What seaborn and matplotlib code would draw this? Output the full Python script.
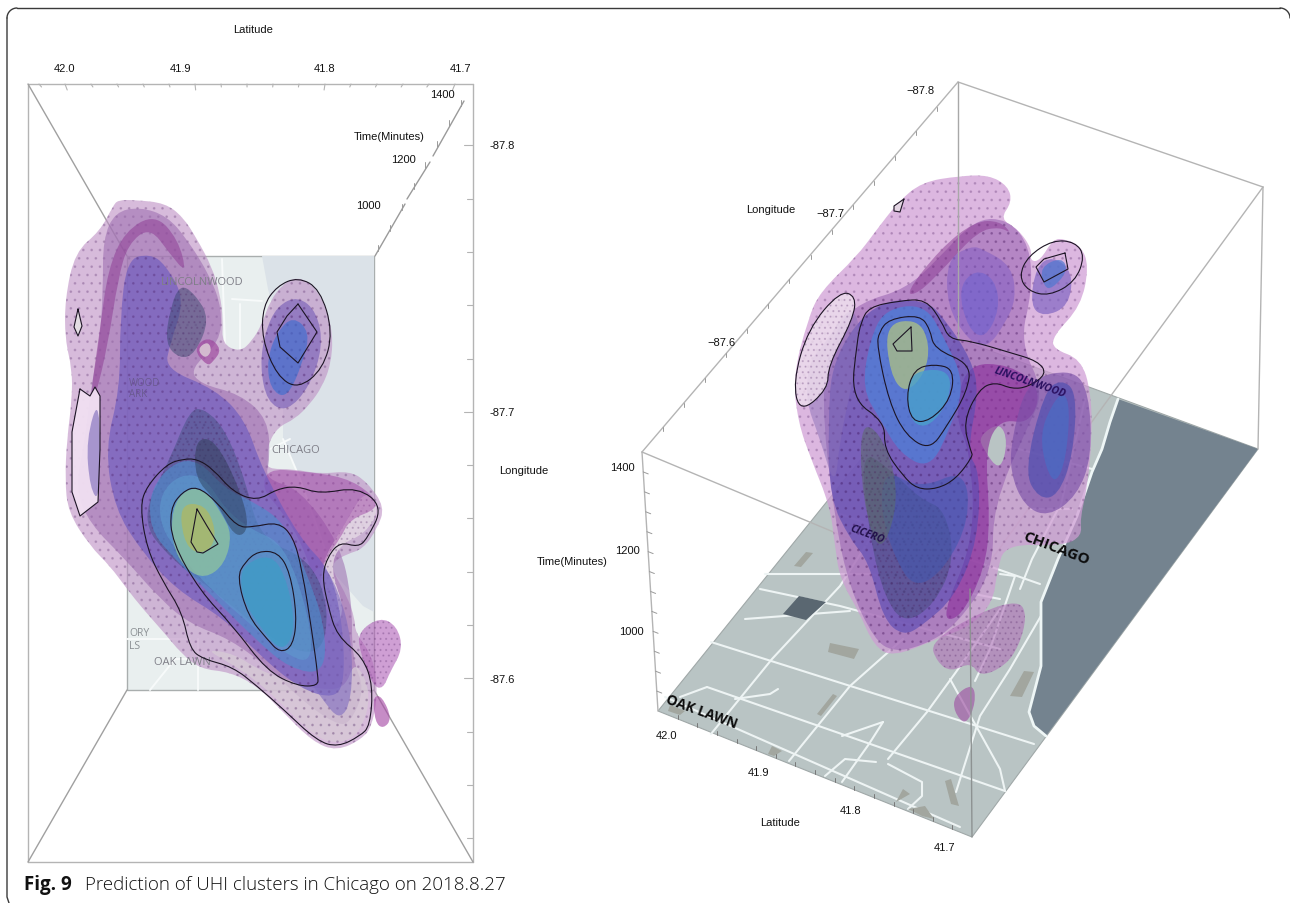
import matplotlib
matplotlib.use('Agg')
import matplotlib.pyplot as plt
import numpy as np
import seaborn as sns
from matplotlib.path import Path
from matplotlib.patches import PathPatch, Polygon

# --- подписи ---
left_labels = [('Latitude', 253, 30), ('42.0', 64, 69), ('41.9', 181, 69), ('41.8', 325, 69), ('41.7', 460, 69),
               ('Time(Minutes)', 389, 137), ('1400', 442, 95), ('1200', 403, 160), ('1000', 368, 206),
               ('-87.8', 502, 146), ('-87.7', 502, 413), ('-87.6', 502, 680), ('Longitude', 524, 471)]
right_labels = [('\u221287.8', 920, 91), ('\u221287.7', 830, 214), ('Longitude', 771, 210), ('\u221287.6', 721, 343),
                ('1400', 622, 468), ('1200', 627, 551), ('1000', 631, 632), ('Time(Minutes)', 572, 562),
                ('42.0', 666, 736), ('41.9', 758, 773), ('41.8', 851, 811), ('41.7', 945, 848), ('Latitude', 780, 823)]

# --- левая панель: контуры кластеров ---
l_outer = [(118,201),(135,201),(165,204),(183,218),(197,240),(212,268),(220,295),(223,320),(222,345),(240,353),(252,342),
           (262,325),(270,302),(283,285),(297,278),(312,285),(325,305),(333,335),(331,365),(322,388),(310,405),(295,420),
           (278,428),(268,445),(268,460),(267,470),(293,470),(320,475),(350,472),(367,483),(385,508),(377,530),(363,550),
           (347,555),(333,563),(333,573),(347,597),(355,620),(355,633),(373,658),(378,693),(372,727),(362,740),(337,752),
           (313,743),(283,713),(257,687),(230,673),(200,670),(180,653),(167,637),(143,610),(127,590),(110,567),(90,547),
           (68,513),(65,480),(67,440),(72,400),(72,370),(65,340),(65,300),(75,253),(100,232),(113,207)]
l_tail1 = [(358,633),(380,618),(397,627),(403,650),(390,673),(383,690),(373,687),(360,653)]
l_tail2 = [(373,697),(382,697),(392,720),(383,730),(375,723)]
l_mauve = [(103,240),(115,213),(140,208),(167,217),(187,240),(210,277),(222,310),(220,343),(190,370),(200,385),(240,395),
           (268,420),(270,460),(265,480),(300,490),(340,545),(352,600),(352,660),(365,690),(350,725),(335,725),(300,700),
           (270,670),(230,640),(190,625),(160,600),(125,560),(90,525),(75,490),(85,440),(90,395),(100,340),(103,290)]
l_band = [(90,400),(100,330),(108,270),(125,232),(155,215),(178,240),(187,275),(170,255),(150,228),(128,245),(118,280),
          (108,345),(95,400)]
l_violet = [(127,260),(150,255),(165,265),(185,300),(170,345),(165,370),(215,390),(245,420),(262,470),(300,540),(330,570),
            (342,620),(345,680),(335,700),(300,690),(258,655),(225,620),(175,590),(140,550),(115,510),(105,450),(120,390),(120,320)]
l_lavender = [(235,625),(275,640),(300,668),(322,700),(340,722),(352,700),(352,640),(338,590),(320,560),(300,600),(270,610)]
l_magenta = [(268,470),(300,472),(345,478),(372,495),(378,510),(350,520),(340,540),(325,560),(318,590),(300,540),(280,510),(262,490)]
l_ring = [(193,350),(208,337),(222,350),(213,363),(207,367)]
l_ring_in = [(197,350),(208,342),(212,352),(205,360)]
l_dark_top = [(180,285),(195,295),(210,320),(195,355),(180,360),(165,345),(170,310)]
l_slate = [(170,460),(190,410),(205,410),(225,430),(245,480),(260,540),(310,560),(330,610),(320,660),(270,640),(225,600),
           (170,560),(140,520)]
l_shade = [(195,440),(215,440),(240,490),(250,530),(235,540),(215,500),(195,480)]
l_blue = [(150,490),(175,462),(200,462),(225,490),(258,505),(285,525),(305,570),(325,625),(325,675),(290,670),(255,640),
          (215,600),(170,555),(150,530)]
l_blue2 = [(160,495),(180,475),(205,478),(225,510),(250,530),(285,545),(310,620),(312,665),(285,655),(250,625),(210,590),
           (175,550),(160,525)]
l_teal = [(172,510),(185,490),(205,490),(222,515),(232,535),(225,565),(205,580),(185,570),(172,545)]
l_yellow = [(180,505),(205,505),(216,530),(212,550),(195,555),(183,540)]
l_sky = [(245,565),(270,555),(285,575),(295,620),(290,645),(278,650),(262,630),(245,605),(240,580)]
l_lobe = [(277,307),(298,297),(317,313),(323,347),(310,387),(287,413),(267,403),(260,367),(265,333)]
l_lobe_in = [(293,317),(310,333),(303,363),(287,400),(270,390),(267,360),(277,333)]
l_pale = [(80,390),(90,397),(95,388),(100,397),(100,450),(98,503),(80,517),(72,493),(72,433)]
l_pale_blue = [(100,395),(100,503),(90,490),(86,440)]
l_grey_low = [(205,650),(235,655),(260,672),(300,685),(318,690),(345,690),(355,660),(372,695),(360,735),(338,745),(315,738),
              (283,706),(257,682),(230,664)]
l_grey_right = [(340,545),(365,535),(380,510),(365,490),(345,525),(320,565),(322,600),(335,630),(345,610),(330,570)]

# контурные линии (чёрные)
l_c1 = [(197,460),(213,470),(233,493),(257,502),(277,490),(297,487),(320,495),(358,488),(383,508),(367,540),(358,548),
        (340,543),(328,557),(322,577),(328,607),(337,637),(363,658),(373,687),(370,727),(360,737),(338,748),(317,742),
        (283,710),(257,687),(233,668),(203,660),(190,650),(182,613),(163,583),(147,550),(140,507),(147,487),(167,465),(183,460)]
l_c2 = [(197,487),(217,503),(237,528),(253,528),(278,523),(293,537),(302,570),(312,633),(318,677),(318,687),(297,687),
        (267,672),(233,627),(200,592),(172,543),(170,510),(182,493)]
l_c3 = [(197,510),(207,527),(218,545),(203,554),(197,553),(191,543)]
l_c4 = [(258,552),(278,553),(290,573),(297,617),(293,647),(280,654),(267,640),(248,617),(237,578),(245,563)]
l_c5 = [(78,310),(82,327),(78,337),(74,328)]
l_c6 = [(80,390),(90,397),(95,388),(100,397),(100,450),(98,503),(80,517),(72,493),(72,433)]
l_c7 = [(298,278),(320,290),(333,333),(323,370),(298,390),(277,377),(262,340),(263,307),(277,287)]
l_c8 = [(298,305),(317,333),(298,364),(280,348),(277,333),(287,317)]

# --- правая панель: контуры кластеров ---
r_outer = [(959,177),(989,176),(1008,187),(1012,203),(1000,220),(1018,230),(1032,250),(1030,262),(1040,262),(1053,240),
           (1065,240),(1081,247),(1089,267),(1081,307),(1053,337),(1053,350),(1081,360),(1091,393),(1092,440),(1087,490),
           (1080,520),(1082,537),(1063,547),(1005,545),(997,573),(993,603),(971,627),(937,640),(893,658),(874,647),(859,613),
           (840,580),(835,547),(830,507),(811,460),(798,423),(793,377),(808,320),(820,293),(857,257),(875,233),(898,203),(922,183)]
r_low1 = [(980,613),(1019,601),(1027,617),(1019,647),(1005,667),(980,678),(971,663),(951,673),(937,663),(930,643)]
r_low2 = [(973,684),(976,703),(966,727),(954,713),(954,697)]
r_mauve = [(906,290),(938,260),(975,220),(1008,220),(1030,247),(1032,293),(1020,343),(1044,393),(1028,427),(993,507),
           (993,573),(956,627),(922,647),(893,653),(874,640),(850,590),(835,523),(820,393),(836,327),(861,303)]
r_violet = [(873,303),(926,300),(947,323),(971,360),(979,393),(967,453),(980,473),(978,540),(956,597),(922,627),(903,637),
            (883,620),(869,563),(850,540),(830,500),(828,427),(832,360)]
r_upper = [(947,260),(971,247),(983,250),(1012,267),(1016,300),(1006,323),(987,350),(967,340),(947,307)]
r_upper_in = [(958,290),(975,270),(995,280),(1000,310),(985,340),(968,330)]
r_band = [(905,295),(940,250),(975,222),(1000,222),(1012,235),(1000,228),(978,232),(945,268),(918,295)]
r_slate = [(860,450),(890,470),(920,500),(945,510),(955,560),(935,605),(905,625),(885,600),(870,540)]
r_olive = [(860,420),(885,440),(900,500),(880,560),(862,500)]
r_blue = [(870,340),(885,310),(925,305),(945,340),(965,385),(950,430),(930,470),(900,455),(880,420),(862,390)]
r_yellow = [(885,325),(918,320),(930,345),(925,375),(905,395),(890,375)]
r_sky = [(912,372),(950,370),(950,400),(930,428),(912,425),(906,397)]
r_blue_low = [(885,470),(920,490),(965,470),(970,520),(945,570),(915,590),(895,560),(880,510)]
r_left = [(825,345),(850,305),(862,330),(850,395),(840,440),(835,490),(820,440),(805,400),(810,360)]
r_magenta = [(965,365),(1010,365),(1042,390),(1030,425),(1000,420),(985,450),(990,520),(985,570),(960,620),(940,620),
             (975,540),(970,450),(955,420)]
r_lobe = [(1036,267),(1053,257),(1073,273),(1069,307),(1044,318),(1030,307)]
r_lobe_in = [(1040,268),(1062,258),(1068,272),(1052,290),(1044,288)]
r_tall = [(1028,380),(1073,370),(1089,393),(1092,457),(1077,497),(1048,518),(1024,507),(1010,473),(1012,437)]
r_tall_in = [(1044,393),(1061,380),(1077,393),(1073,457),(1058,497),(1039,500),(1024,473)]
r_tall_deep = [(1052,405),(1064,392),(1070,410),(1066,460),(1056,485),(1046,470),(1040,435)]
r_hole = [(979,437),(1000,423),(1008,443),(1000,473),(983,450)]
r_c1 = [(869,308),(898,302),(926,300),(942,323),(949,340),(971,342),(1008,353),(1038,362),(1047,375),(1028,388),(1012,390),
        (995,383),(979,390),(963,423),(971,453),(973,457),(956,480),(937,490),(917,490),(903,477),(884,450),(885,423),
        (851,400),(857,343),(861,323)]
r_c2 = [(889,320),(920,316),(930,330),(934,350),(971,365),(967,393),(947,427),(930,451),(906,437),(889,403),(877,347),(879,333)]
r_c3 = [(911,328),(912,352),(897,352),(893,345)]
r_c4 = [(914,370),(934,365),(954,370),(951,400),(930,422),(912,423),(906,397)]
r_c5 = [(840,292),(856,297),(853,320),(828,367),(828,390),(800,414),(793,383),(808,330)]
r_c6 = [(904,200),(900,213),(894,212),(894,207)]
r_c7 = [(1053,241),(1075,243),(1085,257),(1075,283),(1049,297),(1028,292),(1019,277),(1028,257)]
r_c8 = [(1065,254),(1068,270),(1044,283),(1036,268),(1044,260)]

# --- карта справа ---
floor = [(658,712),(972,838),(1258,450),(958,340)]
lake = [(1118,400),(1110,423),(1102,450),(1092,473),(1077,517),(1058,560),(1041,603),(1041,667),(1029,713),(1034,727),(1046,737),(1258,450)]
coast = [(1118,400),(1110,423),(1102,450),(1092,473),(1077,517),(1058,560),(1041,603),(1041,667),(1029,713),(1034,727),(1046,737)]
roads = [[(711,643),(1034,745)],[(707,688),(1005,792)],[(707,688),(680,698)],[(665,698),(960,828)],
         [(711,735),(772,660),(840,587),(870,540)],[(789,762),(850,687),(903,640)],[(842,737),(883,723)],
         [(825,777),(845,760),(876,763)],[(842,783),(869,745),(883,723)],[(888,760),(927,713),(956,673),(1000,610)],
         [(888,765),(922,783),(922,797),(908,810)],[(956,793),(980,717),(1010,670),(1045,610)],
         [(760,590),(840,607),(1000,650)],[(765,575),(870,575),(1000,600)],[(745,620),(850,612)],
         [(735,700),(770,695),(778,690)],[(950,680),(1000,770),(1005,792)],[(1000,575),(1015,577),(990,650),(975,682)],
         [(1020,590),(1032,560),(1058,510)],[(840,515),(1040,585)],[(1030,510),(1072,510)],[(1000,445),(1092,470)],[(1085,400),(1060,510)]]
grey_patches = [[(806,553),(813,554),(801,568),(794,567)],[(830,644),(859,650),(854,660),(828,653)],
                [(833,695),(837,697),(821,717),(817,715)],[(1024,672),(1034,673),(1022,698),(1010,697)],
                [(772,747),(782,752),(774,757),(768,755)],[(951,780),(959,807),(951,805),(945,782)],
                [(903,790),(910,795),(896,803)],[(908,810),(925,807),(934,820),(922,817)],
                [(1060,565),(1068,565),(1058,585),(1052,580)],[(670,706),(685,712),(680,716),(668,712)]]
dark_patch = [(799,597),(826,603),(806,621),(783,615)]

# --- карта слева ---
map_left = (127, 257, 374, 691)
lake_left = [(262,257),(268,290),(283,350),(283,440),(300,480),(333,573),(363,607),(374,613),(374,257)]
map_roads = [[(127,525),(170,525)],[(127,640),(190,640)],[(150,691),(175,660),(200,660)],[(198,640),(198,691)],
             [(222,260),(225,345)],[(232,300),(262,302)],[(240,305),(240,350)],[(270,450),(290,440)],[(283,440),(300,480),(333,573)]]

sns.set_theme(style='white')
plt.rcParams['font.family'] = ['Liberation Sans', 'DejaVu Sans']
plt.rcParams['hatch.linewidth'] = 0.8

fig = plt.figure(figsize=(12.9, 9.04), dpi=100)
ax = fig.add_axes([0, 0, 1, 1])
ax.set_xlim(0, 1290)
ax.set_ylim(904, 0)
ax.axis('off')


def smooth_path(pts):
    p = np.array(pts, dtype=float)
    mids = (p + np.roll(p, -1, axis=0)) / 2
    verts = [mids[-1]]
    for a, b in zip(p, mids):
        verts += [a, b]
    return Path(verts, [Path.MOVETO] + [Path.CURVE3] * (len(verts) - 1))


def blob(pts, color, alpha=0.5, hatch=None, z=3, smooth=True):
    # сглаженный замкнутый контур
    p = np.array(pts, dtype=float)
    if smooth:
        path = smooth_path(pts)
    else:
        path = Path(list(p) + [p[0]], [Path.MOVETO] + [Path.LINETO] * (len(p) - 1) + [Path.CLOSEPOLY])
    rgba = matplotlib.colors.to_rgba(color, alpha)
    ec = (0.3, 0.12, 0.38, 0.2) if hatch else 'none'
    ax.add_patch(PathPatch(path, facecolor=rgba, edgecolor=ec, lw=0, hatch=hatch, zorder=z))


def contour(pts, z=6, smooth=False, lw=0.8):
    if smooth:
        ax.add_patch(PathPatch(smooth_path(pts), fc='none', ec='#1c1424', lw=lw, zorder=z))
    else:
        p = np.array(pts + [pts[0]], dtype=float)
        ax.plot(p[:, 0], p[:, 1], color='#1c1424', lw=lw, zorder=z, solid_joinstyle='round')


def edge(p, q, color='#b4b4b4', lw=1.0, z=2):
    sns.lineplot(x=[p[0], q[0]], y=[p[1], q[1]], sort=False, estimator=None, color=color, lw=lw, ax=ax, zorder=z)


# рамка и подпись
t = np.linspace(0, np.pi / 2, 12)
ax.plot(7 + 10 * (1 - np.cos(t)), 19 - 10 * np.sin(t), color='#3a3a3a', lw=1.0, zorder=1)
ax.plot([7, 7, 9], [19, 898, 904], color='#3a3a3a', lw=1.0, zorder=1)
ax.plot([17, 1280], [9, 9], color='#3a3a3a', lw=1.0, zorder=1)
ax.plot(1280 + 10 * np.sin(t), 9 + 10 * (1 - np.cos(t)), color='#3a3a3a', lw=1.0, zorder=1)
ax.text(24, 885, 'Fig. 9', fontsize=13.5, fontweight='bold', family=['Open Sans', 'DejaVu Sans'], va='center', color='#111111')
ax.text(85, 885, 'Prediction of UHI clusters in Chicago on 2018.8.27', fontsize=13.5, fontweight='light',
        family=['Open Sans', 'DejaVu Sans'], va='center', color='#111111')

# === левая панель ===
x0, y0, x1, y1 = map_left
ax.add_patch(Polygon([(x0, y0), (x1, y0), (x1, y1), (x0, y1)], fc='#e9efef', ec='#a9aeae', lw=1.0, zorder=1.5))
ax.add_patch(Polygon(lake_left, fc='#dbe2e8', ec='none', zorder=1.6))
for r in map_roads:
    r = np.array(r)
    ax.plot(r[:, 0], r[:, 1], color='#f7fafa', lw=1.4, zorder=1.7)
for txt, x, y in [('LINCOLNWOOD', 202, 283), ('CHICAGO', 296, 451), ('OAK LAWN', 182, 663)]:
    ax.text(x, y, txt, fontsize=8, color='#7f7f88', ha='center', va='center', family=['Open Sans', 'DejaVu Sans'], zorder=5)
ax.text(129, 640, 'ORY\nLS', fontsize=7.5, color='#8b9094', va='center', linespacing=1.2, family=['Open Sans', 'DejaVu Sans'], zorder=2)
ax.text(129, 389, 'WOOD\nARK', fontsize=7, color='#6a5a90', va='center', linespacing=1.1, family=['Open Sans', 'DejaVu Sans'], zorder=5)

edge((28, 85), (473, 85))
edge((28, 85), (28, 863))
edge((473, 85), (473, 863))
edge((28, 863), (473, 863))
edge((28, 85), (127, 257), color='#a0a0a0')
edge((127, 691), (28, 863), color='#a0a0a0')
edge((374, 691), (473, 863), color='#a0a0a0')
edge((375, 257), (405, 205), color='#9a9a9a')
edge((407, 200), (430, 163), color='#9a9a9a')
edge((433, 157), (464, 102), color='#9a9a9a')

for k in range(17):
    x = 39 + 26 * k
    major = k % 5 == 1
    edge((x, 85), (x + (250 - x) * 0.012, 91 if major else 88), lw=0.8)
for k in range(14):
    y = 146.3 + 53.3 * k
    major = k % 5 == 0
    edge((473, y), (464 if major else 467, y), lw=0.8)
for f in np.linspace(0.03, 0.97, 8):
    px, py = 375 + 89 * f, 257 - 155 * f
    edge((px, py), (px, py - 6), lw=0.7, color='#9a9a9a')

blob(l_outer, '#bd8fc4', 0.6, hatch='..')
blob(l_tail1, '#b060b8', 0.6, hatch='...')
blob(l_tail2, '#a84ea8', 0.65)
blob(l_mauve, '#9a6aae', 0.55)
blob(l_band, '#8f3f96', 0.55)
blob(l_ring, '#a04aa0', 0.7)
blob(l_ring_in, '#d6c0d2', 0.95)
blob(l_grey_low, '#d7cbd6', 0.75, hatch='..')
blob(l_grey_right, '#e4d8e4', 0.85, hatch='...')
blob(l_magenta, '#9a3aa0', 0.45)
blob(l_violet, '#6f5cc0', 0.68, hatch='..')
blob(l_lavender, '#7f6cc0', 0.6)
blob(l_dark_top, '#3c4a70', 0.5, hatch='...')
blob(l_slate, '#3c4f7c', 0.45, hatch='...')
blob(l_blue, '#4f8ccc', 0.65)
blob(l_blue2, '#5f9cd0', 0.55)
blob(l_teal, '#8dc2a0', 0.8)
blob(l_yellow, '#a9b86a', 0.85)
blob(l_shade, '#2a3a50', 0.45)
blob(l_sky, '#3f9cc6', 0.8)
blob(l_lobe, '#7a60b8', 0.65, hatch='..')
blob(l_lobe_in, '#3f6fd0', 0.65)
blob(l_pale, '#f1e0f2', 0.95, smooth=False)
blob(l_pale_blue, '#8a78c0', 0.7)
blob(l_c5, '#e3dde3', 1.0, smooth=False)

for c in (l_c3, l_c5, l_c6, l_c8):
    contour(c)
for c in (l_c1, l_c2, l_c4, l_c7):
    contour(c, smooth=True)

for txt, x, y in left_labels:
    ax.text(x, y, txt, fontsize=8, color='#111111', ha='center', va='center', zorder=8)

# === правая панель ===
ax.add_patch(Polygon(floor, fc='#b9c4c4', ec='#a0a8a8', lw=0.8, zorder=1.5))
ax.add_patch(Polygon(lake, fc='#74838f', ec='none', zorder=1.7))
for r in roads:
    r = np.array(r)
    ax.plot(r[:, 0], r[:, 1], color='#eef4f4', lw=1.5, zorder=1.6)
cs = np.array(coast)
ax.plot(cs[:, 0], cs[:, 1], color='#eef6f6', lw=2.0, zorder=1.8)
for g in grey_patches:
    ax.add_patch(Polygon(g, fc='#a2a69f', ec='none', zorder=1.65))
ax.add_patch(Polygon(dark_patch, fc='#5a6771', ec='none', zorder=1.65))

edge((958, 83), (642, 453))
edge((958, 83), (1263, 188))
edge((1263, 188), (970, 590))
edge((642, 453), (970, 590))
edge((958, 83), (958, 340), color='#a8a8a8', z=5)
edge((642, 453), (658, 712))
edge((1263, 188), (1258, 450))
edge((970, 590), (972, 838), color='#8d9292', z=5)

for k in range(1, 15):
    px, py = 958 - 21.07 * k, 83 + 24.67 * k
    edge((px, py), (px, py + 4), lw=0.7, color='#9a9a9a')
for k in range(1, 13):
    f = k / 13
    px, py = 642 + 16 * f, 453 + 259 * f
    edge((px, py), (px + 5, py + 2), lw=0.7, color='#9a9a9a')
for k in range(1, 16):
    f = k / 16
    px, py = 658 + 314 * f, 712 + 126 * f
    edge((px, py), (px, py - 4), lw=0.7, color='#777777', z=2.5)

blob(r_outer, '#cf9cd4', 0.72, hatch='..')
blob(r_low1, '#b070b8', 0.6, hatch='...')
blob(r_low2, '#a055a5', 0.65)
blob(r_mauve, '#965fb0', 0.55, hatch='..')
blob(r_band, '#8a3a92', 0.5)
blob(r_hole, '#b9c4c4', 1.0, z=3.2)
blob(r_upper, '#7f5cc4', 0.5)
blob(r_upper_in, '#6a62d0', 0.5)
blob(r_magenta, '#8a2a9a', 0.6, z=3.5)
blob(r_violet, '#5a4cb4', 0.65, hatch='..', z=3.6)
blob(r_left, '#8a70b8', 0.5, z=3.6)
blob(r_slate, '#3a4a6a', 0.4, hatch='...', z=3.7)
blob(r_blue_low, '#3f58b0', 0.55, z=3.7)
blob(r_olive, '#5c6c68', 0.55, hatch='...', z=3.75)
blob(r_blue, '#4f7fd8', 0.75, z=3.8)
blob(r_yellow, '#a8bd88', 0.8, z=3.9)
blob(r_sky, '#4aa0cc', 0.8, z=3.9)
blob(r_tall, '#7a50a8', 0.65, z=3.5)
blob(r_tall_in, '#5050b0', 0.7, z=3.6)
blob(r_tall_deep, '#4a6cc4', 0.7, z=3.7)
blob(r_lobe, '#7a60c0', 0.65)
blob(r_lobe_in, '#4f78d0', 0.7)
blob(r_c5, '#ecdcec', 0.85, z=4, smooth=True, hatch='...')
blob(r_c6, '#e3d5e3', 1.0, z=4, smooth=False)

for c in (r_c3, r_c6, r_c8):
    contour(c)
for c in (r_c1, r_c2, r_c4, r_c5, r_c7):
    contour(c, smooth=True)

# подписи на карте
fp = Polygon(floor, transform=ax.transData)
oak = ax.text(702, 712, 'OAK LAWN', fontsize=10, fontweight='bold', color='#0c0c0c', rotation=-20, ha='center', va='center',
              family=['Open Sans', 'DejaVu Sans'], rotation_mode='anchor', zorder=7)
oak.set_clip_path(fp)
ax.text(1056, 549, 'CHICAGO', fontsize=11, fontweight='bold', color='#0c0c0c', rotation=-21, ha='center', va='center',
        family=['Open Sans', 'DejaVu Sans'], rotation_mode='anchor', zorder=7)
ax.text(867, 535, 'CICERO', fontsize=7.5, fontweight='bold', style='italic', color='#22104a', rotation=-20, ha='center', va='center',
        family=['Open Sans', 'DejaVu Sans'], rotation_mode='anchor', zorder=7)
ax.text(1030, 383, 'LINCOLNWOOD', fontsize=7.5, fontweight='bold', style='italic', color='#2a1060', rotation=-19, ha='center',
        va='center', family=['Open Sans', 'DejaVu Sans'], rotation_mode='anchor', zorder=7)

for txt, x, y in right_labels:
    ax.text(x, y, txt, fontsize=8, color='#111111', ha='center', va='center', zorder=8)

plt.savefig('out.png', dpi=100)
